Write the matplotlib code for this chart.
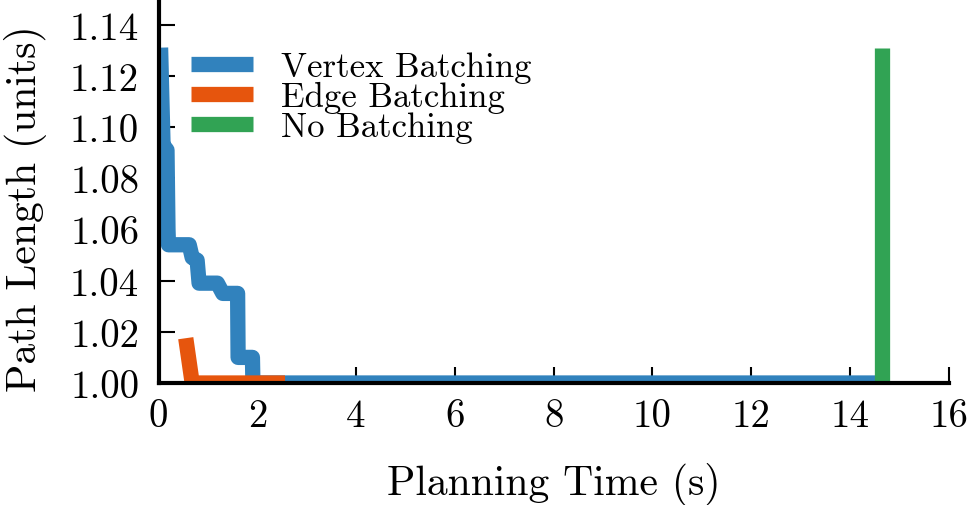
import matplotlib
matplotlib.use("Agg")
import matplotlib.pyplot as plt

plt.rcParams['font.family'] = 'serif'
plt.rcParams['font.serif'] = ['cmr10']
plt.rcParams['mathtext.fontset'] = 'cm'
plt.rcParams['axes.formatter.use_mathtext'] = True

# Data
vertex_t = [0.04, 0.09, 0.17, 0.19, 0.20, 0.62, 0.68, 0.78, 0.82, 1.19, 1.30, 1.60, 1.61, 1.90, 1.91, 14.65]
vertex_y = [1.131, 1.093, 1.091, 1.060, 1.054, 1.054, 1.049, 1.048, 1.039, 1.039, 1.035, 1.035, 1.010, 1.010, 1.000, 1.000]
edge_t = [0.55, 0.68, 2.56]
edge_y = [1.0175, 1.000, 1.000]
none_t = [14.65, 14.65]
none_y = [1.131, 1.000]
labels = ["Vertex Batching", "Edge Batching", "No Batching"]
colors = ["#3182bd", "#e6550d", "#31a354"]
xticks = [0, 2, 4, 6, 8, 10, 12, 14, 16]
yticks = [1.00, 1.02, 1.04, 1.06, 1.08, 1.10, 1.12, 1.14]

fig = plt.figure(figsize=(9.76, 5.06), dpi=100)
ax = fig.add_axes([0.1625, 0.2411, 0.972 - 0.1625, 1.0 - 0.2411])

lw = 11
for t, y, lab, c in zip([vertex_t, edge_t, none_t], [vertex_y, edge_y, none_y], labels, colors):
    ax.plot(t, y, color=c, lw=lw, label=lab, solid_joinstyle='round', solid_capstyle='butt')

ax.set_xlim(0, 16)
ax.set_ylim(1.0, 1.15)
ax.set_xticks(xticks)
ax.set_yticks(yticks)
ax.set_xticklabels([str(v) for v in xticks])
ax.set_yticklabels(["%.2f" % v for v in yticks])

for s in ['top', 'right']:
    ax.spines[s].set_visible(False)
for s in ['left', 'bottom']:
    ax.spines[s].set_linewidth(3)
ax.tick_params(direction='in', length=11.5, width=1.5, labelsize=28)
ax.tick_params(axis='y', pad=14)
ax.tick_params(axis='x', pad=11)

ax.set_xlabel("Planning Time (s)", fontsize=30, labelpad=20)
ax.set_ylabel("Path Length (units)", fontsize=30)
ax.yaxis.set_label_coords(-0.1416, 0.456)

leg = ax.legend(loc='upper left', bbox_to_anchor=(0.023, 0.90), frameon=False, fontsize=25,
                handlelength=1.79, handletextpad=0.8, labelspacing=-0.05, borderaxespad=0)

fig.savefig("out.png", dpi=100)
